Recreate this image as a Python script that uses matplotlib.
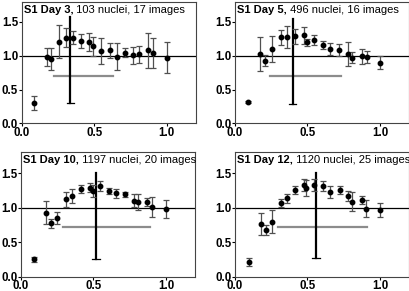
import matplotlib
matplotlib.use("Agg")
import matplotlib.pyplot as plt

titles_bold = ["S1 Day 3,", "S1 Day 5,", "S1 Day 10,", "S1 Day 12,"]
titles_rest = [" 103 nuclei, 17 images", " 496 nuclei, 16 images",
               " 1197 nuclei, 20 images", " 1120 nuclei, 25 images"]

x_d3 = [0.088, 0.175, 0.203, 0.259, 0.305, 0.356, 0.406, 0.464, 0.494, 0.55, 0.612, 0.658, 0.711, 0.769, 0.81, 0.87, 0.905, 1.0]
y_d3 = [0.30, 0.98, 0.955, 1.21, 1.27, 1.27, 1.22, 1.20, 1.14, 1.07, 1.08, 0.985, 1.045, 1.01, 1.02, 1.08, 1.045, 0.97]
e_d3 = [0.10, 0.13, 0.165, 0.245, 0.135, 0.10, 0.10, 0.13, 0.14, 0.19, 0.115, 0.20, 0.07, 0.125, 0.13, 0.255, 0.225, 0.23]

x_d5 = [0.088, 0.175, 0.207, 0.258, 0.316, 0.357, 0.415, 0.475, 0.495, 0.546, 0.606, 0.657, 0.714, 0.776, 0.809, 0.876, 0.908, 1.0]
y_d5 = [0.315, 1.025, 0.926, 1.10, 1.276, 1.276, 1.29, 1.305, 1.197, 1.227, 1.16, 1.094, 1.08, 1.025, 0.97, 0.995, 0.98, 0.897]
e_d5 = [0.02, 0.25, 0.085, 0.19, 0.11, 0.16, 0.11, 0.125, 0.055, 0.075, 0.06, 0.09, 0.09, 0.175, 0.08, 0.11, 0.085, 0.10]

x_d10 = [0.087, 0.172, 0.209, 0.248, 0.313, 0.352, 0.414, 0.478, 0.494, 0.545, 0.607, 0.655, 0.72, 0.777, 0.805, 0.871, 0.903, 1.0]
y_d10 = [0.25, 0.926, 0.77, 0.853, 1.12, 1.167, 1.265, 1.29, 1.235, 1.31, 1.245, 1.206, 1.19, 1.10, 1.08, 1.08, 1.015, 0.985]
e_d10 = [0.037, 0.17, 0.06, 0.09, 0.11, 0.10, 0.055, 0.06, 0.085, 0.07, 0.045, 0.07, 0.035, 0.09, 0.115, 0.06, 0.145, 0.13]

x_d12 = [0.094, 0.18, 0.214, 0.256, 0.318, 0.357, 0.415, 0.479, 0.493, 0.546, 0.606, 0.657, 0.721, 0.776, 0.809, 0.873, 0.903, 1.0]
y_d12 = [0.215, 0.76, 0.673, 0.795, 1.068, 1.137, 1.254, 1.327, 1.283, 1.33, 1.312, 1.224, 1.254, 1.166, 1.083, 1.112, 0.985, 0.966]
e_d12 = [0.06, 0.156, 0.07, 0.163, 0.063, 0.066, 0.063, 0.08, 0.12, 0.085, 0.078, 0.085, 0.063, 0.076, 0.137, 0.054, 0.125, 0.095]

# cross: vertical line x, y-range; horizontal gray line y, x-range
cross_vx = [0.335, 0.399, 0.517, 0.558]
cross_vy = [(0.30, 1.58), (0.29, 1.55), (0.26, 1.505), (0.27, 1.50)]
cross_hy = [0.705, 0.705, 0.72, 0.717]
cross_hx = [(0.224, 0.63), (0.244, 0.733), (0.287, 0.89), (0.30, 0.912)]

xs = [x_d3, x_d5, x_d10, x_d12]
ys = [y_d3, y_d5, y_d10, y_d12]
es = [e_d3, e_d5, e_d10, e_d12]

FONT = "Liberation Sans"
fig = plt.figure(figsize=(4.10, 2.91), dpi=100)
W, H = 410, 291
boxes = [(21.7, 1.7, 174, 121.6), (235, 1.7, 174, 121.6),
         (21, 152.3, 174, 124.4), (235, 152.3, 174, 124.4)]

for i, (l, t, w, h) in enumerate(boxes):
    ax = fig.add_axes([l / W, 1 - (t + h) / H, w / W, h / H])
    ax.set_xlim(0, 1.2)
    ax.set_ylim(0, 1.8)
    ax.axhline(1.0, color="black", lw=0.9, zorder=1)
    ax.plot(cross_hx[i], [cross_hy[i]] * 2, color="#8c8c8c", lw=1.6, zorder=2)
    ax.plot([cross_vx[i]] * 2, cross_vy[i], color="black", lw=1.6, zorder=3)
    ax.plot([cross_vx[i] - 0.025, cross_vx[i] + 0.025], [cross_vy[i][0]] * 2,
            color="black", lw=0.9, zorder=3)
    ax.errorbar(xs[i], ys[i], yerr=es[i], fmt="o", color="black", ms=3.2,
                ecolor="#505050", elinewidth=0.9, capsize=2.5, capthick=0.9, zorder=4)
    ax.set_xticks([0.0, 0.5, 1.0])
    ax.set_yticks([0.0, 0.5, 1.0, 1.5])
    ax.set_xticklabels(["0.0", "0.5", "1.0"], fontweight="bold", fontsize=8.3, family=FONT)
    ax.set_yticklabels(["0.0", "0.5", "1.0", "1.5"], fontweight="bold", fontsize=8.3, family=FONT)
    ax.tick_params(direction="out", length=2, width=0.8, pad=0.6, colors="black")
    for sp in ax.spines.values():
        sp.set_color("#444444")
        sp.set_linewidth(0.8)
    tb = ax.text(0.012, 0.975, titles_bold[i], transform=ax.transAxes,
                 fontsize=8, fontweight="bold", va="top", ha="left", family=FONT)
    fig.canvas.draw()
    bb = tb.get_window_extent()
    inv = ax.transAxes.inverted()
    x_end = inv.transform((bb.x1, bb.y1))[0]
    ax.text(x_end, 0.975, titles_rest[i], transform=ax.transAxes,
            fontsize=8, va="top", ha="left", family=FONT)

fig.savefig("out.png", dpi=100)
